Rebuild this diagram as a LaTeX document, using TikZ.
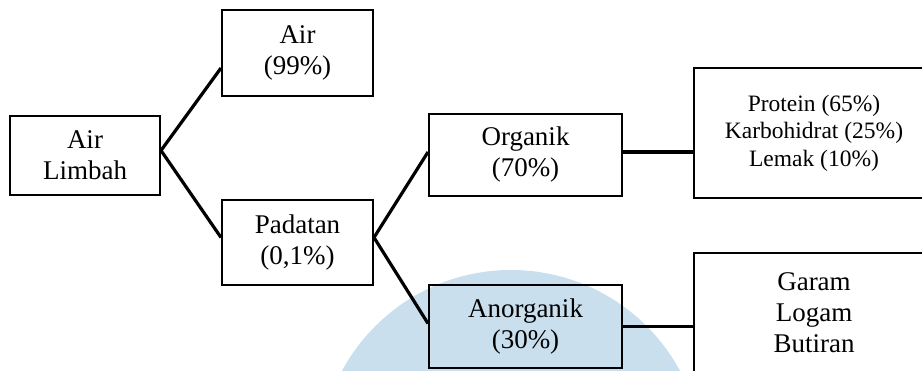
\documentclass[tikz,border=0pt]{standalone}
\usepackage{fontspec}
\setmainfont{Liberation Serif}
\usetikzlibrary{positioning,calc}
\definecolor{watermark}{RGB}{201,223,237}

\begin{document}
\begin{tikzpicture}[x=1pt,y=1pt,every node/.style={draw,line width=2pt,align=center,inner sep=2pt,font=\fontsize{27}{31}\selectfont},link/.style={line width=3.2pt}]
    \useasboundingbox (0,0) rectangle (922,370);
    \clip (0,0) rectangle (922,370);
    \fill[watermark] (511,-92) circle (192);
    \node[minimum width=150,minimum height=79] (limbah) at (85,214.5) {Air\\Limbah};
    \node[minimum width=151,minimum height=86] (air) at (297.5,317) {Air\\(99\%)};
    \node[minimum width=151,minimum height=85] (padatan) at (297.5,127.5) {Padatan\\(0,1\%)};
    \node[minimum width=193,minimum height=82] (organik) at (525.5,215) {Organik\\(70\%)};
    \node[minimum width=193,minimum height=83] (anorganik) at (525.5,43.5) {Anorganik\\(30\%)};
    \node[minimum width=240,minimum height=130,font=\fontsize{23.5}{27.5}\selectfont] (komposisi) at (814,237) {Protein (65\%)\\Karbohidrat (25\%)\\Lemak (10\%)};
    \node[minimum width=240,minimum height=119] (mineral) at (814,57.5) {Garam\\Logam\\Butiran};
    \draw[link] ([yshift=5pt]limbah.east)--([yshift=-15pt]air.west);
    \draw[link] ([yshift=5pt]limbah.east)--([yshift=5pt]padatan.west);
    \draw[link] ([yshift=5pt]padatan.east)--([yshift=3pt]organik.west);
    \draw[link] ([yshift=5pt]padatan.east)--([yshift=3pt]anorganik.west);
    \draw[link] ([yshift=3pt]organik.east)--([yshift=3pt]organik.east-|komposisi.west);
    \draw[link] (anorganik.east)--(anorganik.east-|mineral.west);
  \end{tikzpicture}
\end{document}
